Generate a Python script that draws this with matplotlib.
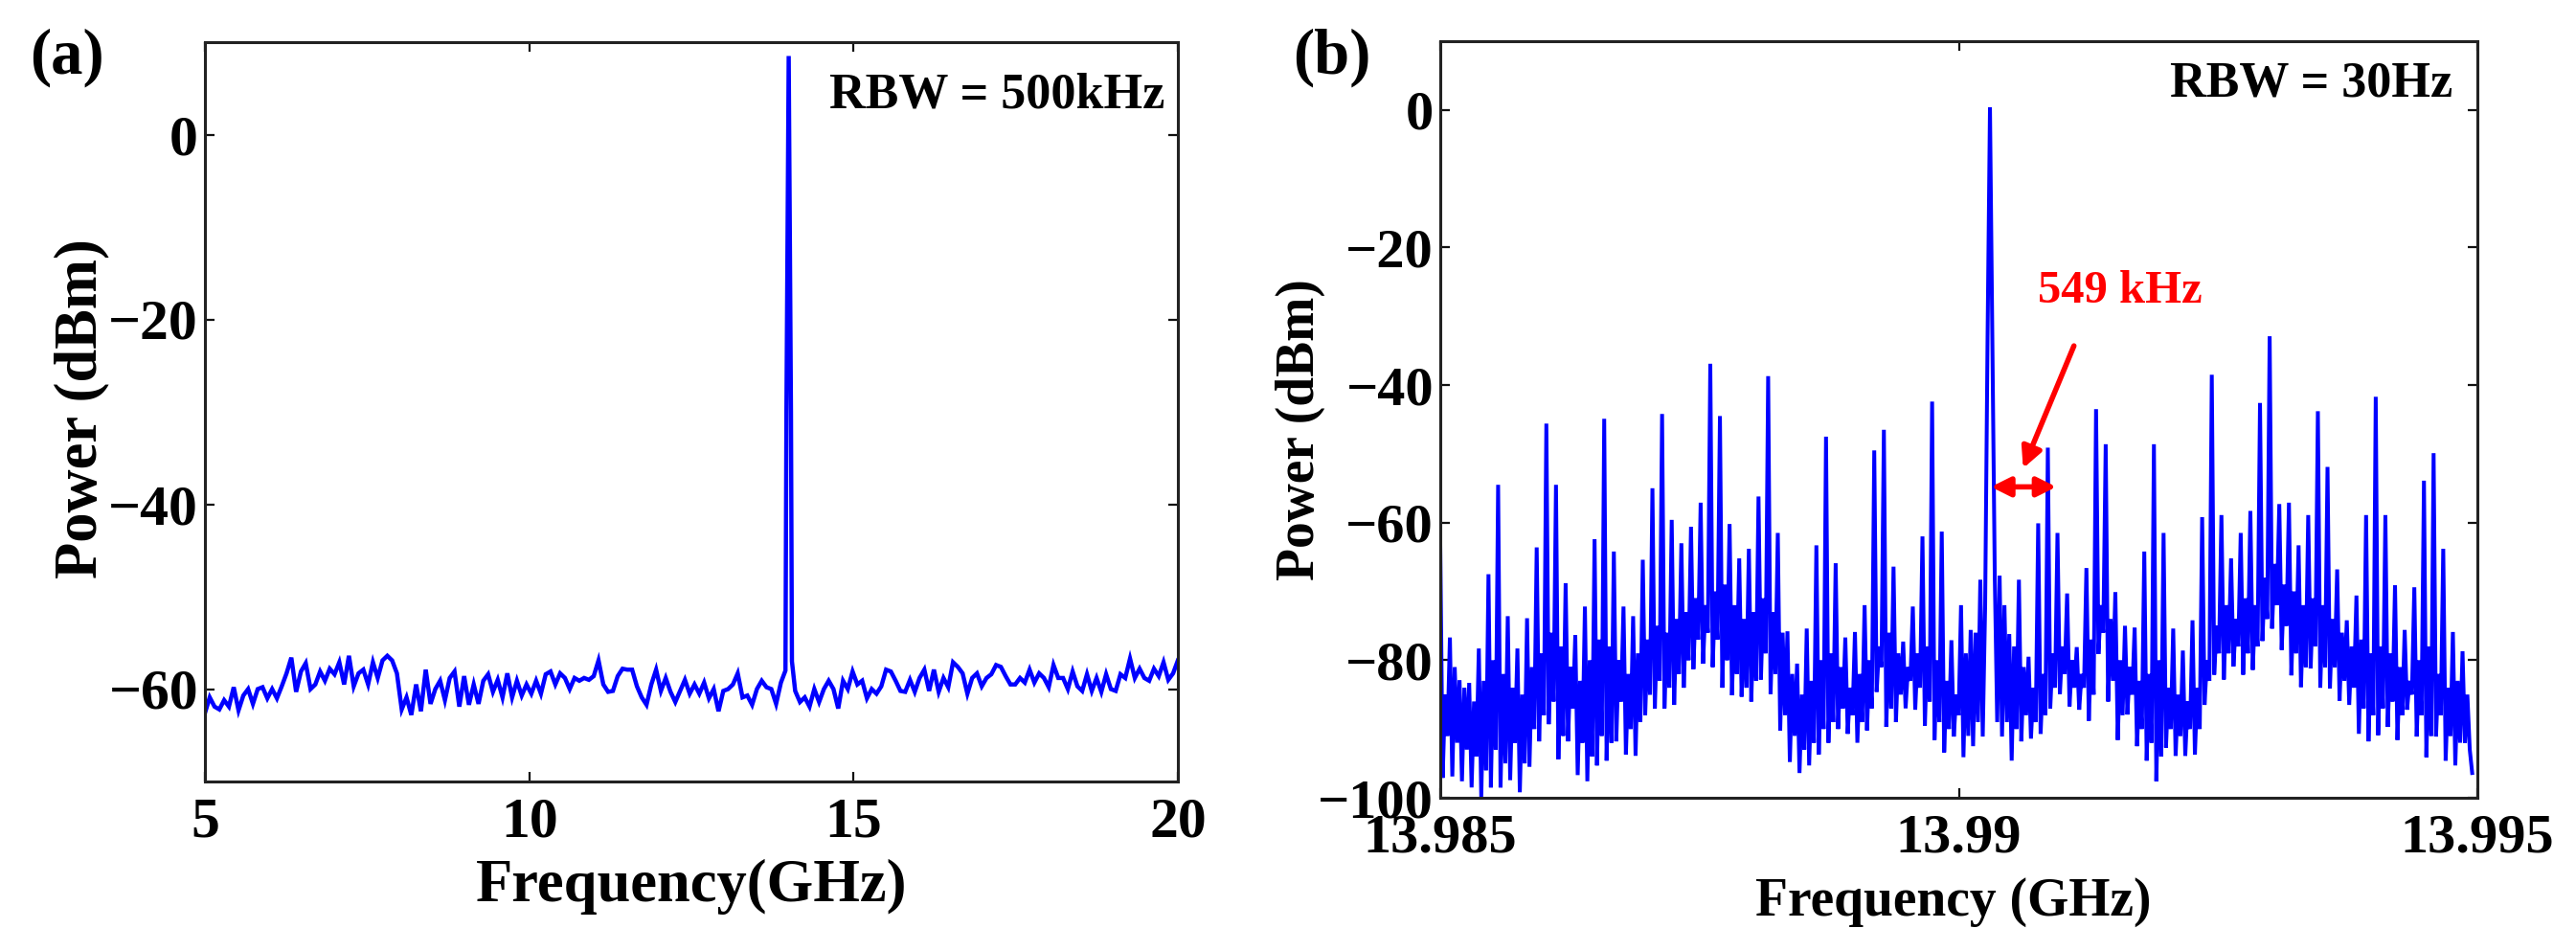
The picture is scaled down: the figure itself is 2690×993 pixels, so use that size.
import numpy as np
import matplotlib
matplotlib.use("Agg")
import matplotlib.pyplot as plt
from matplotlib.patches import FancyArrowPatch

plt.rcParams['font.family'] = ['Liberation Serif', 'DejaVu Serif']
plt.rcParams['font.weight'] = 'bold'

BLUE = '#0000ff'
RED = '#ff0000'

# ---------- panel (a) ----------
a_low_range = (5.0, 13.88)
a_power_low = [
    -62.6,-60.9,-61.9,-62.2,-61.2,-61.9,-59.8,-62.3,-60.7,-60,-61.6,-60,-59.8,-61,-60,-61,-59.7,-58.3,-56.6,-60.3,
    -58.1,-57.2,-60,-59.5,-58.1,-59.1,-57.8,-58.4,-57.1,-59.5,-56.4,-59.7,-58.3,-57.9,-59.5,-57.1,-58.8,-56.9,-56.4,-56.9,
    -58.3,-62.2,-60.9,-62.8,-59.5,-62.4,-57.9,-61.6,-60,-59.1,-61.2,-58.8,-58.1,-61.9,-58.6,-61.7,-59.5,-61.6,-59.1,-58.4,
    -60.3,-59,-60.9,-58.3,-60.9,-59.1,-60.7,-59.5,-60.5,-59.1,-60.5,-58.4,-58.1,-59.5,-58.3,-58.8,-60,-58.8,-59.1,-58.8,
    -59,-58.6,-56.9,-59.5,-60.3,-60.2,-58.6,-57.8,-57.9,-57.9,-59.7,-60.9,-61.7,-59.5,-57.9,-60.2,-58.8,-60.3,-61.4,-60.2,
    -59,-60.5,-59.5,-60.5,-59.3,-61,-60,-62.4,-60.2,-60,-59.5,-58.3,-60.9,-60.7,-61.7,-60,-59.1,-59.8,-60,-61.6,-59.3]
a_peak_freq = [13.95, 13.965, 13.99, 14.0, 14.01, 14.035, 14.05]
a_peak_power = [-58, -30, -3, 8.5, -3, -30, -57]
a_high_range = (14.10, 20.0)
a_power_high = [
    -60.2,-61.4,-60.9,-61.9,-60,-61.4,-60,-59.1,-60,-62.1,-59.1,-60,-58.1,-59.5,-59.1,-61,-60,-60.5,-59.7,-57.9,
    -58.1,-59.1,-60.2,-60.3,-59,-60.3,-58.8,-57.9,-60.2,-57.9,-60.3,-58.8,-59.8,-57.1,-57.6,-58.3,-60.5,-58.8,-58.3,-59.7,
    -58.8,-58.4,-57.4,-57.6,-58.6,-59.5,-59.5,-58.8,-59.3,-57.9,-59.3,-58.3,-58.8,-59.8,-57.4,-58.8,-58.8,-60,-58.1,-59.7,
    -60.2,-58.4,-60.2,-58.8,-60.3,-58.4,-60,-60.2,-58.4,-58.8,-56.7,-58.8,-57.8,-58.8,-59.1,-57.8,-58.6,-57.1,-59,-58.3,-56.9]
a_xticks = [5, 10, 15, 20]
a_yticks = [-60, -40, -20, 0]
a_yticklabels = ['\u221260', '\u221240', '\u221220', '0']

# ---------- panel (b): one row per comb tooth ----------
b_peak = [
    -63.3,-76.7,-82.9,-83.3,-78.3,-67.5,-54.5,-73.6,-78.3,-73.9,
    -63.6,-45.6,-54.5,-68.8,-76.4,-72.2,-62.4,-44.9,-64.2,-72.2,
    -73.6,-65.4,-55.0,-44.2,-59.6,-63.0,-60.6,-57.1,-36.9,-44.5,
    -60.2,-65.2,-63.8,-56.2,-38.7,-61.5,-75.8,-80.5,-75.4,-63.3,
    -47.5,-65.9,-76.7,-75.9,-72.0,-49.5,-46.5,-66.4,-77.3,-72.2,
    -62.0,-42.4,-61.3,-77.1,-72.0,-75.6,-68.3,0.4,-67.7,-76.2,
    -68.3,-79.5,-60.1,-49.1,-61.5,-70.3,-78.1,-66.6,-43.5,-48.6,
    -70.1,-75.0,-75.3,-64.2,-48.6,-61.5,-75.4,-78.6,-74.2,-59.2,
    -38.5,-58.9,-65.2,-61.5,-58.3,-42.6,-32.9,-57.3,-57.1,-63.3,
    -58.9,-43.8,-51.9,-66.8,-74.2,-70.6,-58.9,-41.7,-58.9,-69.1,
    -75.6,-69.4,-53.9,-49.9,-63.8,-75.9,-78.7]
b_dip = [
    -97.1,-96.9,-97.6,-98.5,-99.9,-98.5,-98.5,-97.4,-99.2,-95.5,
    -91.8,-89.3,-94.4,-91.8,-96.7,-97.6,-95.3,-94.6,-91.8,-93.7,
    -93.9,-88.0,-87.0,-87.0,-86.5,-84.0,-81.3,-80.5,-81.0,-84.0,
    -85.1,-85.3,-86.0,-82.8,-84.9,-90.2,-94.8,-96.4,-95.3,-93.7,
    -92.0,-90.0,-90.7,-92.0,-90.2,-84.6,-89.7,-89.0,-87.0,-87.2,
    -89.5,-91.6,-93.4,-91.1,-94.1,-92.5,-91.1,-33.5,-91.1,-94.6,
    -91.8,-91.4,-90.7,-87.0,-84.9,-86.7,-87.2,-88.8,-79.1,-86.0,
    -91.6,-87.9,-92.5,-94.6,-97.6,-92.7,-93.9,-93.9,-93.7,-86.5,
    -82.1,-82.8,-80.9,-82.1,-81.4,-77.2,-75.4,-78.5,-82.2,-83.9,
    -81.2,-84.0,-84.1,-85.9,-86.5,-90.7,-91.8,-90.9,-89.7,-91.6,
    -87.2,-91.1,-94.1,-91.1,-94.6,-95.3,-92.0]
b_mid = [
    -85,-81,-84,-86,-83,-80,-82,-84,-85,-81,
    -79,-76,-78,-81,-83,-80,-77,-78,-80,-82,
    -79,-77,-75,-76,-74,-73,-71,-72,-70,-69,
    -72,-74,-73,-71,-73,-76,-82,-85,-83,-80,
    -79,-81,-84,-82,-80,-78,-76,-79,-81,-79,
    -78,-80,-83,-85,-79,-76,-72,-68,-72,-78,
    -81,-84,-82,-79,-78,-80,-82,-77,-72,-74,
    -80,-81,-83,-82,-80,-84,-85,-86,-84,-80,
    -75,-72,-74,-71,-72,-68,-66,-69,-70,-72,
    -71,-72,-74,-76,-78,-77,-79,-78,-79,-81,
    -83,-80,-78,-82,-84,-83,-85]
b_dip2 = [
    -91,-92,-93,-94,-96,-93,-95,-92,-95,-90,
    -88,-86,-91,-87,-92,-94,-91,-92,-86,-90,
    -89,-85,-83,-84,-82,-80,-77,-76,-77,-80,
    -82,-84,-83,-79,-82,-88,-91,-93,-92,-90,
    -89,-87,-88,-89,-87,-81,-87,-85,-83,-84,
    -86,-89,-90,-88,-91,-89,-33,-89,-89,-90,
    -88,-89,-88,-84,-82,-84,-84,-85,-76,-83,
    -88,-85,-90,-92,-94,-90,-91,-90,-90,-83,
    -79,-79,-78,-79,-78,-74,-72,-75,-79,-81,
    -78,-81,-81,-83,-84,-87,-88,-87,-86,-88,
    -85,-88,-91,-88,-91,-92,-93]
b_last = [-96.4]
b_range = (13.985, 13.99495)
b_xticks = [13.985, 13.99, 13.995]
b_xticklabels = ['13.985', '13.99', '13.995']
b_yticks = [-100, -80, -60, -40, -20, 0]
b_yticklabels = ['\u2212100', '\u221280', '\u221260', '\u221240', '\u221220', '0']

# ---------- assemble ----------
a_freq = np.concatenate([np.linspace(*a_low_range, len(a_power_low)), a_peak_freq,
                         np.linspace(*a_high_range, len(a_power_high))])
a_power = np.concatenate([a_power_low, a_peak_power, a_power_high])
b_power = np.concatenate([np.column_stack([b_peak, b_dip, b_mid, b_dip2]).ravel(), b_last])
b_freq = np.linspace(*b_range, len(b_power))

W, H = 2690, 993
fig = plt.figure(figsize=(W / 100, H / 100), dpi=100, facecolor='white')


def make_axes(left, right, top, bottom):
    return fig.add_axes([left / W, 1 - bottom / H, (right - left) / W, (bottom - top) / H])


ax_a = make_axes(214, 1230, 44, 816)
ax_b = make_axes(1504, 2587, 43, 833)

ax_a.plot(a_freq, a_power, color=BLUE, lw=3.2, solid_joinstyle='miter')
ax_b.plot(b_freq, b_power, color=BLUE, lw=2.9, solid_joinstyle='miter')

ax_a.set_xlim(5, 20)
ax_a.set_ylim(-70, 10)
ax_a.set_xticks(a_xticks)
ax_a.set_xticklabels([str(v) for v in a_xticks])
ax_a.set_yticks(a_yticks)
ax_a.set_yticklabels(a_yticklabels)

ax_b.set_xlim(13.985, 13.995)
ax_b.set_ylim(-100, 10)
ax_b.set_xticks(b_xticks)
ax_b.set_xticklabels(b_xticklabels)
ax_b.set_yticks(b_yticks)
ax_b.set_yticklabels(b_yticklabels)

for ax, size in ((ax_a, 43), (ax_b, 42)):
    ax.tick_params(axis='both', which='major', direction='in', top=True, right=True,
                   length=7, width=1.6, labelsize=size, color='#111111')
    ax.tick_params(axis='x', pad=12)
    ax.tick_params(axis='y', pad=5)
    for s in ax.spines.values():
        s.set_linewidth(2.2)
        s.set_color('#222222')

ax_a.set_xlabel('Frequency(GHz)', fontsize=45, fontweight='bold')
ax_a.set_ylabel('Power (dBm)', fontsize=45, fontweight='bold')
ax_b.set_xlabel('Frequency (GHz)', fontsize=40, fontweight='bold')
ax_b.set_ylabel('Power (dBm)', fontsize=40, fontweight='bold')
ax_a.xaxis.set_label_coords(0.5, -0.105)
ax_b.xaxis.set_label_coords(0.495, -0.105)
ax_a.yaxis.set_label_coords(-0.098, 0.505)
ax_b.yaxis.set_label_coords(-0.111, 0.487)

ax_a.text(19.8, 4.3, 'RBW = 500kHz', fontsize=37.5, ha='right', va='center', fontweight='bold')
ax_b.text(13.99476, 3.75, 'RBW = 30Hz', fontsize=37.5, ha='right', va='center', fontweight='bold')
ax_b.text(13.99155, -26.4, '549 kHz', fontsize=35, color=RED, ha='center', va='center', fontweight='bold')

fig.text(70 / W, 1 - 60 / H, '(a)', fontsize=48, ha='center', va='center', fontweight='bold')
fig.text(1391 / W, 1 - 60 / H, '(b)', fontsize=48, ha='center', va='center', fontweight='bold')

ax_b.add_patch(FancyArrowPatch((13.99031, -54.8), (13.99094, -54.8), arrowstyle='<|-|>',
                               mutation_scale=30, lw=4.0, color=RED, shrinkA=0, shrinkB=0, zorder=5))
ax_b.add_patch(FancyArrowPatch((13.99111, -34.3), (13.99062, -52.1), arrowstyle='-|>',
                               mutation_scale=32, lw=4.0, color=RED, shrinkA=0, shrinkB=0, zorder=5))

fig.savefig('out.png', dpi=100, facecolor='white')
